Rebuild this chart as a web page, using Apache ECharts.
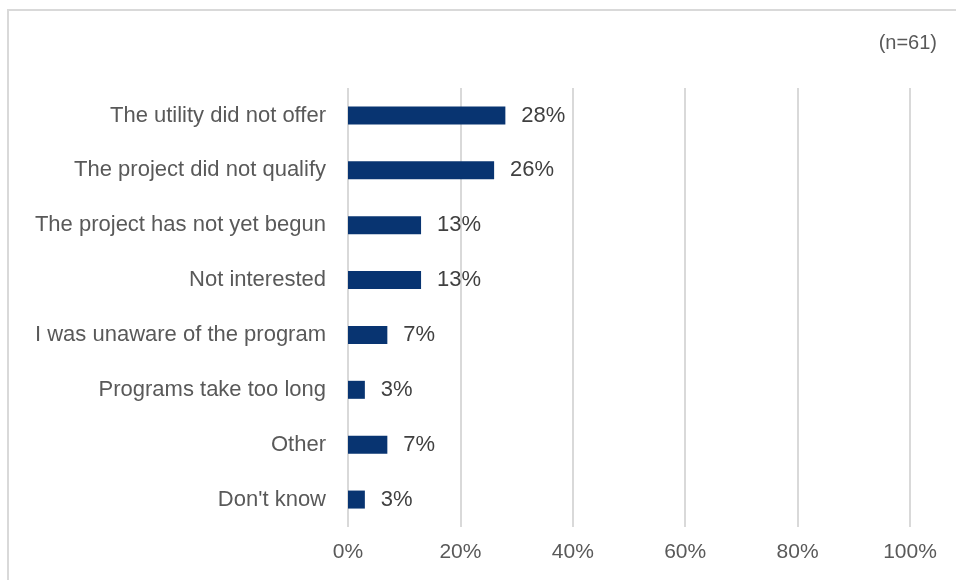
<!DOCTYPE html>
<html>
<head>
<meta charset="utf-8">
<script src="https://cdn.jsdelivr.net/npm/echarts@6/dist/echarts.min.js"></script>
<style>
  html, body { margin: 0; padding: 0; background: #ffffff; }
  #chart { width: 956px; height: 580px; }
</style>
</head>
<body>
<div id="chart"></div>
<script>
// Reasons given for not participating in a utility program
const categories = [
  'The utility did not offer',
  'The project did not qualify',
  'The project has not yet begun',
  'Not interested',
  'I was unaware of the program',
  'Programs take too long',
  'Other',
  "Don't know"
];
const shares = [28, 26, 13, 13, 7, 3, 7, 3];
const sampleNote = '(n=61)';

const textFont = '"Liberation Sans", Arial, sans-serif';
const chart = echarts.init(document.getElementById('chart'), null, { renderer: 'canvas' });

chart.setOption({
  animation: false,
  backgroundColor: '#ffffff',
  graphic: [
    {
      type: 'rect',
      shape: { x: 8, y: 10, width: 970, height: 600 },
      style: { fill: 'none', stroke: '#d9d9d9', lineWidth: 2 }
    },
    {
      type: 'text',
      right: 19,
      top: 33,
      style: { text: sampleNote, font: '20px ' + textFont, fill: '#595959' }
    }
  ],
  grid: { left: 348, right: 46, top: 88, bottom: 53, containLabel: false },
  xAxis: {
    type: 'value',
    min: 0,
    max: 100,
    interval: 20,
    axisLine: { show: false },
    axisTick: { show: false },
    splitLine: { show: true, lineStyle: { color: '#d9d9d9', width: 2 } },
    axisLabel: {
      formatter: '{value}%',
      color: '#595959',
      fontFamily: textFont,
      fontSize: 21,
      margin: 15
    }
  },
  yAxis: {
    type: 'category',
    data: categories,
    inverse: true,
    axisLine: { show: false },
    axisTick: { show: false },
    axisLabel: {
      color: '#595959',
      fontFamily: textFont,
      fontSize: 22,
      margin: 22
    }
  },
  series: [
    {
      type: 'bar',
      data: shares,
      barWidth: 18,
      itemStyle: { color: '#083471' },
      label: {
        show: true,
        position: 'right',
        distance: 16,
        formatter: '{c}%',
        color: '#404040',
        fontFamily: textFont,
        fontSize: 22
      }
    }
  ]
});
</script>
</body>
</html>
